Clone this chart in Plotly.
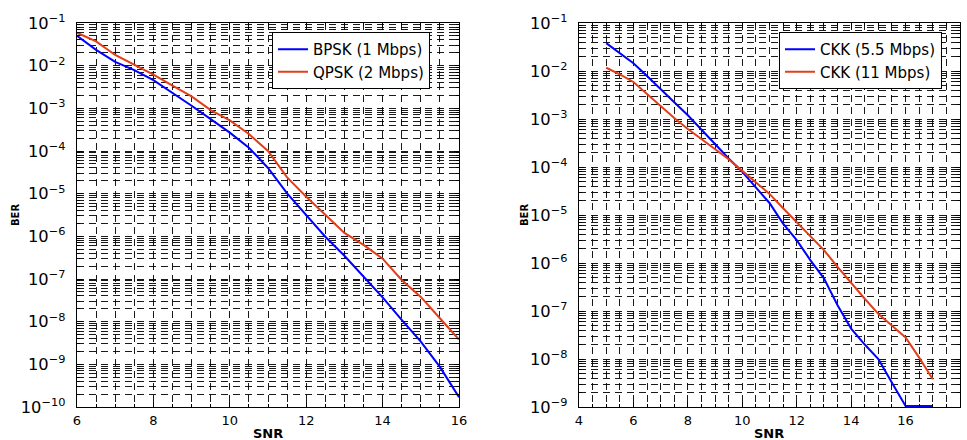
import plotly.graph_objects as go

# ---------------- data ----------------
snr_left = [6, 6.5, 7, 7.5, 8, 8.5, 9, 9.5, 10, 10.5, 11, 11.5, 12, 12.5, 13, 13.5, 14, 14.5, 15, 15.5, 16]
ber_bpsk = [5.0e-2, 2.34e-2, 1.23e-2, 7.9e-3, 4.6e-3, 2.34e-3, 1.15e-3, 5.6e-4, 2.7e-4, 1.2e-4,
            4.0e-5, 1.02e-5, 3.2e-6, 9.8e-7, 3.5e-7, 1.12e-7, 3.7e-8, 1.1e-8, 3.4e-9, 8.7e-10, 1.7e-10]
ber_qpsk = [5.9e-2, 3.7e-2, 1.78e-2, 1.05e-2, 6.2e-3, 3.4e-3, 1.9e-3, 9.1e-4, 5.2e-4, 2.5e-4,
            1.0e-4, 2.4e-5, 8.5e-6, 3.2e-6, 1.2e-6, 6.3e-7, 3.0e-7, 9.5e-8, 3.8e-8, 1.2e-8, 3.8e-9]

snr_right = [5, 5.5, 6, 6.5, 7, 7.5, 8, 8.5, 9, 9.5, 10, 10.5, 11, 11.5, 12, 12.5, 13, 13.5,
             14, 14.5, 15, 15.5, 16, 16.5, 17]
ber_ckk55 = [3.8e-2, 2.34e-2, 1.45e-2, 7.9e-3, 4.3e-3, 2.24e-3, 1.2e-3, 5.9e-4, 2.95e-4, 1.5e-4,
             7.9e-5, 3.8e-5, 1.78e-5, 6.6e-6, 3.0e-6, 1.15e-6, 4.8e-7, 1.32e-7, 4.3e-8, 2.0e-8,
             1.0e-8, 3.2e-9, 1.05e-9, 1.05e-9, 1.05e-9]
ber_ckk11 = [1.17e-2, 8.5e-3, 5.9e-3, 3.3e-3, 1.86e-3, 1.05e-3, 6.2e-4, 3.8e-4, 2.3e-4, 1.45e-4,
             8.3e-5, 4.7e-5, 2.75e-5, 1.38e-5, 7.1e-6, 3.5e-6, 1.86e-6, 8.3e-7, 3.8e-7, 1.8e-7,
             8.7e-8, 5.0e-8, 2.8e-8, 1.07e-8, 3.8e-9]

names_left = ["BPSK (1 Mbps)", "QPSK (2 Mbps)"]
names_right = ["CKK (5.5 Mbps)", "CKK (11 Mbps)"]
x_title = "SNR"
y_title = "BER"

# ---------------- style ----------------
W, H = 967, 440
BLUE = "#0000FF"
RED = "#E23E1A"
FONT = "DejaVu Sans"
GRID = "rgba(0,0,0,0.9)"
DASH = "7px,5px"


def px_x(p):
    return p / W


def px_y(p):
    return 1 - p / H


fig = go.Figure()
fig.add_trace(go.Scatter(x=snr_left, y=ber_bpsk, mode="lines", name=names_left[0],
                         line=dict(color=BLUE, width=2), xaxis="x", yaxis="y", legend="legend"))
fig.add_trace(go.Scatter(x=snr_left, y=ber_qpsk, mode="lines", name=names_left[1],
                         line=dict(color=RED, width=2), xaxis="x", yaxis="y", legend="legend"))
fig.add_trace(go.Scatter(x=snr_right, y=ber_ckk55, mode="lines", name=names_right[0],
                         line=dict(color=BLUE, width=2), xaxis="x2", yaxis="y2", legend="legend2"))
fig.add_trace(go.Scatter(x=snr_right, y=ber_ckk11, mode="lines", name=names_right[1],
                         line=dict(color=RED, width=2), xaxis="x2", yaxis="y2", legend="legend2"))


def xaxis_cfg(domain, rng, anchor):
    return dict(domain=domain, range=rng, anchor=anchor, dtick=2, tick0=0,
                showline=True, linecolor="black", linewidth=1, mirror="ticks",
                ticks="inside", ticklen=5, tickcolor="black",
                showgrid=True, gridcolor=GRID, gridwidth=1, griddash=DASH,
                minor=dict(dtick=0.5, ticks="inside", ticklen=3, tickcolor="black",
                           showgrid=True, gridcolor=GRID, gridwidth=1, griddash=DASH),
                zeroline=False, automargin=False, ticklabelstandoff=1,
                tickfont=dict(family=FONT, size=13, color="black"))


def yaxis_cfg(domain, rng, anchor):
    return dict(domain=domain, range=rng, anchor=anchor, type="log", dtick=1,
                exponentformat="power", showexponent="all",
                showline=True, linecolor="black", linewidth=1, mirror="ticks",
                ticks="inside", ticklen=5, tickcolor="black",
                showgrid=True, gridcolor=GRID, gridwidth=1, griddash=DASH,
                minor=dict(dtick="D1", ticks="inside", ticklen=3, tickcolor="black",
                           showgrid=True, gridcolor=GRID, gridwidth=1, griddash=DASH),
                zeroline=False, automargin=False, ticklabelstandoff=8,
                tickfont=dict(family=FONT, size=13, color="black"))


ydom = [px_y(407), px_y(23)]
legend_common = dict(xanchor="right", yanchor="top", bgcolor="white", bordercolor="black",
                     borderwidth=1, tracegroupgap=0,
                     font=dict(family=FONT, size=15, color="black"))
fig.update_layout(
    width=W, height=H,
    margin=dict(l=0, r=0, t=0, b=0),
    paper_bgcolor="white", plot_bgcolor="white",
    xaxis=xaxis_cfg([px_x(77), px_x(459)], [6, 16], "y"),
    yaxis=yaxis_cfg(ydom, [-10, -1], "x"),
    xaxis2=xaxis_cfg([px_x(579), px_x(960)], [4, 18], "y2"),
    yaxis2=yaxis_cfg(ydom, [-9, -1], "x2"),
    legend=dict(x=px_x(430), y=px_y(32), **legend_common),
    legend2=dict(x=px_x(942), y=px_y(32), **legend_common),
    showlegend=True,
)

for cx in (268, 769):
    fig.add_annotation(text="<b>" + x_title + "</b>", x=px_x(cx), y=px_y(433), xref="paper", yref="paper",
                       showarrow=False, xanchor="center", yanchor="middle",
                       font=dict(family=FONT, size=13, color="black"))
for cx in (15, 524):
    fig.add_annotation(text="<b>" + y_title + "</b>", x=px_x(cx), y=px_y(215), xref="paper", yref="paper",
                       showarrow=False, xanchor="center", yanchor="middle", textangle=-90,
                       font=dict(family=FONT, size=10, color="black"))

fig.write_html("out.html", config={"displayModeBar": False},
               post_script="document.body.style.margin='0px';")
